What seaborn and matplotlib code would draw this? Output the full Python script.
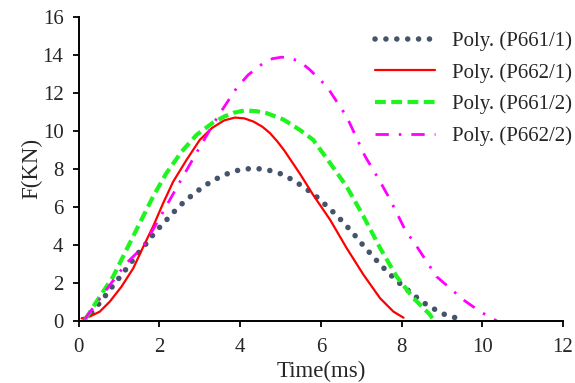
import matplotlib
matplotlib.use("Agg")
import matplotlib.pyplot as plt
import seaborn as sns

# ---- data ----
t_661_1 = [0.15, 0.44, 0.65, 0.85, 1.06, 1.27, 1.47, 1.68, 1.89, 2.12, 2.35, 2.59, 2.84, 3.12, 3.40,
           3.71, 4.03, 4.37, 4.68, 5.01, 5.32, 5.59, 5.86, 6.12, 6.37, 6.60, 6.82, 7.04, 7.26, 7.48,
           7.72, 7.97, 8.23, 8.50, 8.77, 9.06, 9.41]
f_661_1 = [0.0, 0.75, 1.30, 1.86, 2.42, 3.00, 3.56, 4.09, 4.67, 5.19, 5.72, 6.23, 6.67, 7.12, 7.47,
           7.77, 7.98, 8.03, 7.95, 7.74, 7.40, 7.02, 6.60, 6.10, 5.60, 5.09, 4.56, 4.00, 3.47, 2.95,
           2.44, 1.95, 1.49, 1.02, 0.67, 0.35, 0.12]

t_662_1 = [0.07, 0.27, 0.52, 0.77, 1.06, 1.35, 1.60, 1.84, 2.09, 2.34, 2.67, 3.00, 3.30, 3.60, 3.87,
           4.10, 4.33, 4.55, 4.74, 4.92, 5.10, 5.48, 5.81, 6.23, 6.64, 7.06, 7.47, 7.80, 8.05]
f_662_1 = [0.14, 0.23, 0.49, 1.02, 1.81, 2.77, 3.91, 4.96, 6.19, 7.33, 8.47, 9.53, 10.15, 10.55, 10.70,
           10.66, 10.49, 10.22, 9.88, 9.45, 8.95, 7.75, 6.63, 5.32, 3.83, 2.42, 1.19, 0.49, 0.17]

t_661_2 = [0.15, 0.52, 0.85, 1.18, 1.51, 1.84, 2.17, 2.55, 2.92, 3.33, 3.60, 3.83, 4.10, 4.40, 4.66,
           5.07, 5.48, 5.81, 6.23, 6.64, 7.06, 7.47, 7.88, 8.30, 8.71, 8.79]
f_661_2 = [0.05, 1.28, 2.33, 3.74, 5.14, 6.54, 7.77, 8.91, 9.79, 10.44, 10.75, 10.95, 11.07, 11.04, 10.93,
           10.60, 10.05, 9.53, 8.30, 7.07, 5.49, 3.83, 2.33, 1.19, 0.32, 0.05]

t_662_2 = [0.15, 0.44, 0.77, 1.18, 1.60, 1.93, 2.51, 2.96, 3.42, 3.91, 4.20, 4.57, 4.80, 5.03, 5.25,
           5.48, 5.73, 6.15, 6.64, 7.10, 7.47, 7.72, 8.09, 8.38, 8.87, 9.54, 9.95, 10.36]
f_662_2 = [0.10, 0.93, 1.89, 3.04, 3.91, 5.14, 7.33, 9.00, 10.67, 12.25, 12.95, 13.56, 13.80, 13.88, 13.82,
           13.65, 13.21, 12.33, 10.75, 8.65, 7.33, 6.37, 4.79, 3.91, 2.33, 1.10, 0.49, 0.0]

labels = ["Poly. (P661/1)", "Poly. (P662/1)", "Poly. (P661/2)", "Poly. (P662/2)"]
x_ticks = [0, 2, 4, 6, 8, 10, 12]
y_ticks = [0, 2, 4, 6, 8, 10, 12, 14, 16]

# ---- style ----
sns.set_style("ticks")
plt.rcParams["font.family"] = ["Liberation Serif", "DejaVu Serif"]
plt.rcParams["font.size"] = 15

fig = plt.figure(figsize=(5.75, 3.83), dpi=100)
ax = fig.add_axes([0.137, 0.162, 0.842, 0.794])

sns.lineplot(x=t_661_1, y=f_661_1, ax=ax, sort=False, estimator=None, color="#44546A",
             linewidth=4.0, label=labels[0])
sns.lineplot(x=t_662_1, y=f_662_1, ax=ax, sort=False, estimator=None, color="#FF0000",
             linewidth=1.6, label=labels[1])
sns.lineplot(x=t_661_2, y=f_661_2, ax=ax, sort=False, estimator=None, color="#1EF51E",
             linewidth=3.0, label=labels[2])
sns.lineplot(x=t_662_2, y=f_662_2, ax=ax, sort=False, estimator=None, color="#FF00FF",
             linewidth=2.0, label=labels[3])

lines = ax.get_lines()
lines[0].set_linestyle((0, (0.01, 1.95)))
lines[0].set_dash_capstyle("round")
lines[2].set_linestyle((0, (2.6, 1.3)))
lines[3].set_linestyle((0, (4.8, 3.6, 0.9, 3.6)))

ax.set_xlim(0, 12)
ax.set_ylim(0, 16)
ax.set_xticks(x_ticks)
ax.set_yticks(y_ticks)
ax.set_xlabel("Time(ms)", fontsize=16.5, labelpad=3)
ax.set_ylabel("F(KN)", fontsize=16.5, labelpad=0)
ax.tick_params(axis="both", direction="out", length=4, width=1.3, color="black",
               labelsize=15)
ax.tick_params(axis="x", pad=8)
ax.tick_params(axis="y", pad=7)
for s in ["left", "bottom"]:
    ax.spines[s].set_linewidth(1.4)
    ax.spines[s].set_color("black")
sns.despine(ax=ax)

leg = ax.legend(loc="upper left", bbox_to_anchor=(0.652, 0.918), bbox_transform=fig.transFigure,
                frameon=False, fontsize=15, handlelength=2.9, handletextpad=0.8,
                labelspacing=0.57, borderaxespad=0, borderpad=0)

fig.savefig("out.png", dpi=100)
